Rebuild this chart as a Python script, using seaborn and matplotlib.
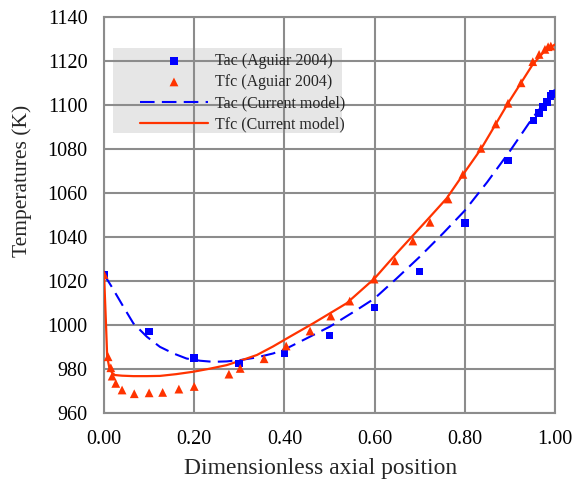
import matplotlib
matplotlib.use("Agg")
import matplotlib.pyplot as plt
from matplotlib.patches import Rectangle
import seaborn as sns
import pandas as pd

# Experimental data (Aguiar 2004)
tac_x = [0.0, 0.10, 0.20, 0.30, 0.40, 0.50, 0.60, 0.70, 0.80, 0.896, 0.953, 0.965, 0.974, 0.982, 0.990, 0.996]
tac_T = [1023, 997, 985, 982.5, 987, 995.2, 1008, 1024.3, 1046.5, 1074.8, 1093, 1096.5, 1099, 1101.5, 1104, 1105]

tfc_x = [0.0, 0.009, 0.015, 0.018, 0.026, 0.040, 0.067, 0.100, 0.130, 0.166, 0.200, 0.277, 0.302,
         0.355, 0.404, 0.457, 0.503, 0.545, 0.599, 0.645, 0.685, 0.723, 0.763, 0.796, 0.836,
         0.869, 0.896, 0.925, 0.951, 0.965, 0.978, 0.985, 0.991]
tfc_T = [1023, 985.6, 980.6, 976.8, 973.5, 970.5, 968.8, 969.2, 969.4, 970.9, 972.1, 977.7, 980.3,
         984.7, 990.5, 997.3, 1004.1, 1010.9, 1020.9, 1029.2, 1038.2, 1046.7, 1057.3, 1068.5, 1080.3,
         1091.4, 1100.8, 1110.1, 1119.7, 1123, 1125.3, 1126.5, 1126.8]

# Current model curves
mac_x = [0.0, 0.017, 0.043, 0.065, 0.095, 0.124, 0.154, 0.183, 0.213, 0.242, 0.272, 0.302, 0.339, 0.375,
         0.405, 0.442, 0.50, 0.56, 0.60, 0.649, 0.70, 0.752, 0.80, 0.85, 0.90, 0.95, 0.975, 1.0]
mac_T = [1023, 1017.4, 1008.3, 1000.8, 994.7, 990.1, 987.1, 984.8, 983.8, 983.3, 983.5, 984.1, 985.3, 987.1,
         989.4, 993.2, 999.2, 1006.8, 1012.1, 1021.2, 1031.0, 1041.7, 1052.0, 1065.0, 1079.0, 1094.0, 1100.5, 1107.0]

mfc_x = [0.0, 0.004, 0.007, 0.012, 0.018, 0.024, 0.04, 0.065, 0.095, 0.124, 0.16, 0.198, 0.235, 0.272,
         0.305, 0.339, 0.375, 0.412, 0.464, 0.538, 0.60, 0.649, 0.686, 0.723, 0.76, 0.80, 0.837, 0.869,
         0.896, 0.925, 0.951, 0.975, 1.0]
mfc_T = [1023, 1002.3, 985.6, 980.3, 978.3, 977.3, 977.0, 976.8, 976.8, 976.9, 977.7, 978.8, 980.2, 981.8,
         984.0, 986.4, 990.3, 994.7, 1000.8, 1009.9, 1021.2, 1032.6, 1040.9, 1049.2, 1057.6, 1069.5, 1080.3, 1091.4,
         1100.8, 1110.1, 1118.5, 1124.0, 1127.5]

xticks = [0.0, 0.2, 0.4, 0.6, 0.8, 1.0]
xtick_labels = ["0.00", "0.20", "0.40", "0.60", "0.80", "1.00"]
yticks = list(range(960, 1141, 20))

sns.set_style("white")
plt.rcParams['font.family'] = ['Liberation Serif', 'DejaVu Serif']

fig = plt.figure(figsize=(5.78, 4.86), dpi=100)
ax = fig.add_axes([0.18, 0.150, 0.780, 0.815])

blue = "#0000FF"
red = "#FF3300"

df_ac = pd.DataFrame({"x": tac_x, "T": tac_T})
df_fc = pd.DataFrame({"x": tfc_x, "T": tfc_T})
df_mac = pd.DataFrame({"x": mac_x, "T": mac_T})
df_mfc = pd.DataFrame({"x": mfc_x, "T": mfc_T})

sns.lineplot(data=df_mac, x="x", y="T", ax=ax, color=blue, lw=1.5, sort=False,
             label="Tac (Current model)", zorder=3)
ax.lines[-1].set_dashes([7, 3.5])
sns.lineplot(data=df_mfc, x="x", y="T", ax=ax, color=red, lw=1.6, sort=False,
             label="Tfc (Current model)", zorder=3)
sns.scatterplot(data=df_ac, x="x", y="T", ax=ax, marker="s", color=blue, s=30,
                edgecolor="none", label="Tac (Aguiar 2004)", zorder=4)
sns.scatterplot(data=df_fc, x="x", y="T", ax=ax, marker="^", color=red, s=40,
                edgecolor="none", label="Tfc (Aguiar 2004)", zorder=4)

ax.set_xlim(0, 1.0)
ax.set_ylim(960, 1140)
ax.set_xticks(xticks)
ax.set_xticklabels(xtick_labels)
ax.set_yticks(yticks)
ax.grid(True, color="#8c8c8c", lw=1.5)
ax.set_axisbelow(True)
for sp in ax.spines.values():
    sp.set_color("#8c8c8c")
    sp.set_linewidth(1.5)
ax.tick_params(axis="both", length=0, labelsize=14.5, colors="black")
ax.tick_params(axis="x", pad=12)
ax.tick_params(axis="y", pad=12)
ax.set_xlabel("Dimensionless axial position", fontsize=17)
ax.set_ylabel("Temperatures (K)", fontsize=15.5)
ax.xaxis.set_label_coords(0.48, -0.113)
ax.yaxis.set_label_coords(-0.16, 0.586)

# legend background (drawn beneath gridlines, as in the reference)
ax.add_patch(Rectangle(((113 - 104) / 451, (413 - 133) / 396), (342 - 113) / 451, (133 - 48) / 396,
                       transform=ax.transAxes, facecolor="#e6e6e6", edgecolor="none", zorder=0.3))

handles, labels = ax.get_legend_handles_labels()
order = [labels.index(l) for l in ["Tac (Aguiar 2004)", "Tfc (Aguiar 2004)",
                                    "Tac (Current model)", "Tfc (Current model)"]]
leg = ax.legend([handles[i] for i in order], [labels[i] for i in order],
                loc="upper left", bbox_to_anchor=((140 - 104) / 451, (413 - 53) / 396), frameon=False,
                fontsize=11.5, handlelength=4.25, labelspacing=0.32, borderpad=0,
                handletextpad=0.45, borderaxespad=0)

fig.savefig("out.png", dpi=100)
